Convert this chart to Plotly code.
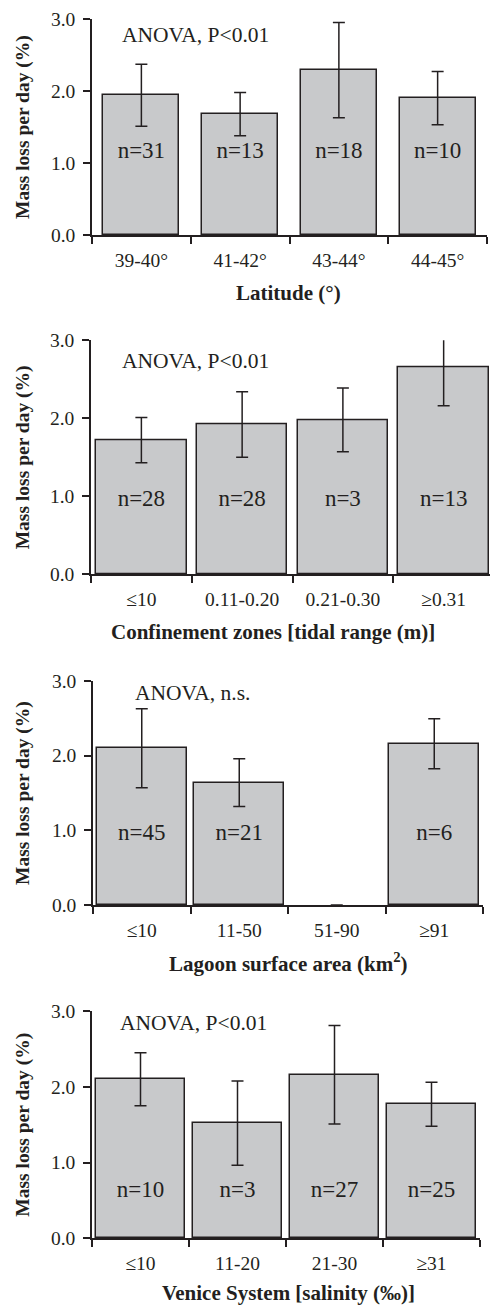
import plotly.graph_objects as go

# ---------------- data ----------------
lat_cats = ["39-40°", "41-42°", "43-44°", "44-45°"]
lat_mean = [1.94, 1.68, 2.29, 1.90]
lat_err = [0.43, 0.30, 0.66, 0.37]
lat_n = ["n=31", "n=13", "n=18", "n=10"]

conf_cats = ["≤10", "0.11-0.20", "0.21-0.30", "≥0.31"]
conf_mean = [1.72, 1.92, 1.98, 2.65]
conf_err = [0.29, 0.42, 0.41, 0.49]
conf_n = ["n=28", "n=28", "n=3", "n=13"]

area_cats = ["≤10", "11-50", "51-90", "≥91"]
area_mean = [2.10, 1.64, 0.0, 2.16]
area_err = [0.53, 0.32, 0.0, 0.335]
area_n = ["n=45", "n=21", "", "n=6"]

sal_cats = ["≤10", "11-20", "21-30", "≥31"]
sal_mean = [2.10, 1.52, 2.16, 1.77]
sal_err = [0.35, 0.555, 0.65, 0.29]
sal_n = ["n=10", "n=3", "n=27", "n=25"]

y_title = "Mass loss per day (%)"
# --------------------------------------

W, H = 490, 1305
FONT = "Liberation Serif"
INK = "#231f20"
FILL = "#c8c9cb"

panels = [
    dict(cats=lat_cats, mean=lat_mean, err=lat_err, n=lat_n, ny=1.15,
         anova="ANOVA, P<0.01", xtitle="Latitude (°)", bw=0.77,
         xpx=(92, 487), ypx=(19, 235), xr=3.5, ax=120, ay=2.78, tx=288, ty=293),
    dict(cats=conf_cats, mean=conf_mean, err=conf_err, n=conf_n, ny=0.95,
         anova="ANOVA, P<0.01", xtitle="Confinement zones [tidal range (m)]", bw=0.9,
         xpx=(91, 490), ypx=(340.3, 574.3), xr=3.46, ax=120, ay=2.73, tx=273, ty=632),
    dict(cats=area_cats, mean=area_mean, err=area_err, n=area_n, ny=0.95,
         anova="ANOVA, n.s.", xtitle="Lagoon surface area (km<sup>2</sup>)", bw=0.92,
         xpx=(93, 483), ypx=(681, 905), xr=3.5, ax=133, ay=2.84, tx=288, ty=962),
    dict(cats=sal_cats, mean=sal_mean, err=sal_err, n=sal_n, ny=0.62,
         anova="ANOVA, P<0.01", xtitle="Venice System [salinity (‰)]", bw=0.92,
         xpx=(92, 480), ypx=(1011, 1238.3), xr=3.5, ax=118, ay=2.84, tx=288, ty=1293),
]

fig = go.Figure()
layout = dict(
    width=W, height=H, margin=dict(l=0, r=0, t=0, b=0, pad=0, autoexpand=False),
    paper_bgcolor="white", plot_bgcolor="white", showlegend=False,
    font=dict(family=FONT, color=INK, size=19.5),
    bargap=0.0,
)
annotations = []

for i, p in enumerate(panels, start=1):
    xa = "x" if i == 1 else f"x{i}"
    ya = "y" if i == 1 else f"y{i}"
    xkey = "xaxis" if i == 1 else f"xaxis{i}"
    ykey = "yaxis" if i == 1 else f"yaxis{i}"

    line_w = [1.5 if v > 0 else 0 for v in p["mean"]]
    fig.add_trace(go.Bar(
        x=p["cats"], y=p["mean"], width=p["bw"],
        marker=dict(color=FILL, line=dict(color=INK, width=line_w)),
        error_y=dict(type="data", array=p["err"], visible=True,
                     color=INK, thickness=1.5, width=6),
        cliponaxis=False, xaxis=xa, yaxis=ya, hoverinfo="skip",
    ))
    nx = [c for c, t in zip(p["cats"], p["n"]) if t]
    nt = [t for t in p["n"] if t]
    fig.add_trace(go.Scatter(
        x=nx, y=[p["ny"]] * len(nx), mode="text", text=nt,
        textfont=dict(family=FONT, size=23, color=INK), cliponaxis=False,
        xaxis=xa, yaxis=ya, hoverinfo="skip",
    ))

    x0, x1 = p["xpx"]
    yt, yb = p["ypx"]
    layout[xkey] = dict(
        type="category", domain=[x0 / W, min(x1 / W, 1.0)], anchor=ya,
        range=[-0.5, p["xr"]], showline=True, linecolor=INK, linewidth=1.5,
        ticks="outside", tickson="boundaries", ticklen=7, tickwidth=1.5,
        tickcolor=INK, tickfont=dict(family=FONT, size=19.5, color=INK),
        showgrid=False, zeroline=False, ticklabelstandoff=7, automargin=False,
    )
    layout[ykey] = dict(
        domain=[1 - yb / H, 1 - yt / H], anchor=xa, range=[0, 3],
        tickvals=[0, 1, 2, 3], ticktext=["0.0", "1.0", "2.0", "3.0"],
        showline=True, linecolor=INK, linewidth=1.5,
        ticks="outside", ticklen=7, tickwidth=1.5, tickcolor=INK,
        tickfont=dict(family=FONT, size=19.5, color=INK),
        showgrid=False, zeroline=False, ticklabelstandoff=4, automargin=False,
    )

    annotations.append(dict(
        text=p["anova"], xref=f"{xa} domain", yref=ya,
        x=(p["ax"] - x0) / (x1 - x0), y=p["ay"], xanchor="left", yanchor="middle",
        showarrow=False, font=dict(family=FONT, size=21.5, color=INK),
    ))
    annotations.append(dict(
        text=f"<b>{y_title}</b>", xref="paper", yref="paper",
        x=23 / W, y=1 - ((yt + yb) / 2) / H, textangle=-90,
        xanchor="center", yanchor="middle", showarrow=False,
        font=dict(family=FONT, size=19.5, color=INK),
    ))
    annotations.append(dict(
        text=f"<b>{p['xtitle']}</b>", xref="paper", yref="paper",
        x=p["tx"] / W, y=1 - p["ty"] / H, xanchor="center", yanchor="middle",
        showarrow=False, font=dict(family=FONT, size=21, color=INK),
    ))

layout["annotations"] = annotations
fig.update_layout(**layout)
fig.write_html(
    "out.html",
    config={"displayModeBar": False},
    post_script="document.body.style.margin='0';document.body.style.padding='0';",
)
